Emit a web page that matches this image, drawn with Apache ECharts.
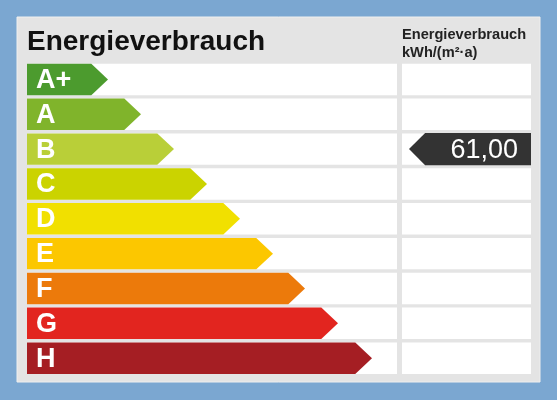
<!DOCTYPE html>
<html>
<head>
<meta charset="utf-8">
<script src="https://cdn.jsdelivr.net/npm/echarts@6/dist/echarts.min.js"></script>
<style>
html,body{margin:0;padding:0;background:#7ba7d1;}
#c{width:557px;height:400px;}
</style>
</head>
<body>
<div id="c"></div>
<script>
// Data
const classes = ['A+', 'A', 'B', 'C', 'D', 'E', 'F', 'G', 'H'];
const arrowEnds = [81, 114, 147, 180, 213, 246, 278, 311, 345];
const classColors = ['#4c9b2e', '#80b42b', '#b9cf38', '#cbd300', '#f1e000', '#fcc700', '#ec7a0b', '#e2251f', '#a51e23'];
const markerClass = 'B';
const markerValue = '61,00';
const headerTitle = 'Energieverbrauch';
const headerUnit = 'Energieverbrauch\nkWh/(m²·a)';

const FONT = 'Liberation Sans, Arial, sans-serif';
const chart = echarts.init(document.getElementById('c'), null, {renderer: 'canvas'});

const GAP = 3.4;

function rowBg(params, api) {
  const idx = api.value(0);
  const cs = params.coordSys;
  const c = api.coord([0, idx]);
  const band = api.size([0, 1])[1];
  const h = band - GAP;
  return {
    type: 'rect',
    shape: {x: cs.x, y: c[1] - h / 2, width: cs.width, height: h},
    style: {fill: '#ffffff'}
  };
}

const option = {
  animation: false,
  backgroundColor: '#7ba7d1',
  graphic: [{
    type: 'rect', z: -10,
    shape: {x: 17, y: 17, width: 523, height: 365},
    style: {fill: '#e4e4e4', stroke: '#efefef', lineWidth: 1}
  }],
  title: [{
    text: headerTitle, left: 27, top: 28, padding: 0,
    textStyle: {fontSize: 28, fontWeight: 'bold', color: '#111', fontFamily: FONT}
  }, {
    text: headerUnit, left: 402, top: 26, padding: 0,
    textStyle: {fontSize: 14.6, fontWeight: 'bold', color: '#222', fontFamily: FONT, lineHeight: 18}
  }],
  grid: [
    {left: 27, top: 62, width: 370, height: 313.6},
    {left: 402, top: 62, width: 129, height: 313.6}
  ],
  xAxis: [
    {gridIndex: 0, type: 'value', min: 0, max: 370, show: false},
    {gridIndex: 1, type: 'value', min: 0, max: 129, show: false}
  ],
  yAxis: [
    {gridIndex: 0, type: 'category', data: classes, inverse: true, show: false},
    {gridIndex: 1, type: 'category', data: classes, inverse: true, show: false}
  ],
  series: [
    {
      type: 'custom', xAxisIndex: 0, yAxisIndex: 0, z: 1,
      data: classes.map((c, i) => [i, 0]),
      encode: {x: 1, y: 0},
      renderItem: rowBg, silent: true
    },
    {
      type: 'custom', xAxisIndex: 1, yAxisIndex: 1, z: 1,
      data: classes.map((c, i) => [i, 0]),
      encode: {x: 1, y: 0},
      renderItem: rowBg, silent: true
    },
    {
      type: 'custom', xAxisIndex: 0, yAxisIndex: 0, z: 2,
      data: arrowEnds.map((v, i) => [i, v]),
      encode: {x: 1, y: 0},
      renderItem: function (params, api) {
        const idx = api.value(0);
        const end = api.value(1);
        const s = api.coord([0, idx]);
        const t = api.coord([end, idx]);
        const band = api.size([0, 1])[1];
        const h = band - GAP;
        const top = s[1] - h / 2, bot = s[1] + h / 2;
        const d = h / 2 + 1;
        return {
          type: 'group',
          children: [{
            type: 'polygon',
            shape: {points: [[s[0], top], [t[0] - d, top], [t[0], s[1]], [t[0] - d, bot], [s[0], bot]]},
            style: {fill: classColors[idx]}
          }, {
            type: 'text',
            style: {
              x: s[0] + 9, y: s[1] + 1, text: classes[idx],
              fill: '#ffffff', font: 'bold 27px ' + FONT,
              textAlign: 'left', textVerticalAlign: 'middle'
            }
          }]
        };
      }
    },
    {
      type: 'custom', xAxisIndex: 1, yAxisIndex: 1, z: 3,
      data: [[classes.indexOf(markerClass), 129]],
      encode: {x: 1, y: 0},
      renderItem: function (params, api) {
        const idx = api.value(0);
        const end = api.value(1);
        const e = api.coord([end, idx]);
        const s = api.coord([7, idx]);
        const band = api.size([0, 1])[1];
        const h = band - 2.6;
        const top = e[1] - h / 2, bot = e[1] + h / 2;
        const d = h / 2;
        return {
          type: 'group',
          children: [{
            type: 'polygon',
            shape: {points: [[s[0], e[1]], [s[0] + d, top], [e[0], top], [e[0], bot], [s[0] + d, bot]]},
            style: {fill: '#333333'}
          }, {
            type: 'text',
            style: {
              x: e[0] - 13, y: e[1] + 1, text: markerValue,
              fill: '#ffffff', font: '27px ' + FONT,
              textAlign: 'right', textVerticalAlign: 'middle'
            }
          }]
        };
      }
    }
  ]
};
chart.setOption(option);
</script>
</body>
</html>
